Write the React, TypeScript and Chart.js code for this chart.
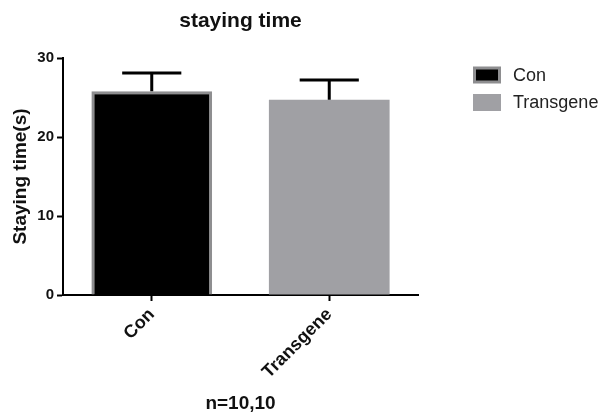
import React, { useEffect, useRef } from "react";
import { Chart, registerables } from "chart.js";

Chart.register(...registerables);

const categories = ["Con", "Transgene"];
const means = [25.8, 24.7];
const errors = [2.3, 2.5];
const yTickValues = [0, 10, 20, 30];
const fillColors = ["#000000", "#a0a0a4"];
const borderColors = ["#8e8e90", "#a0a0a4"];
const borderWidths = [3, 0];
const chartTitle = "staying time";
const yTitle = "Staying time(s)";
const xTitle = "n=10,10";

const FONT = "'Liberation Sans', Arial, Helvetica, sans-serif";

const errorBarPlugin = {
  id: "errorBars",
  afterDatasetsDraw(chart: any) {
    const ctx = chart.ctx;
    const meta = chart.getDatasetMeta(0);
    const yScale = chart.scales.y;
    ctx.save();
    ctx.strokeStyle = "#000000";
    ctx.lineWidth = 3;
    ctx.lineCap = "butt";
    meta.data.forEach((bar: any, i: number) => {
      const x = bar.x;
      const base = yScale.getPixelForValue(means[i]);
      const top = yScale.getPixelForValue(means[i] + errors[i]);
      const half = bar.width * 0.245;
      ctx.beginPath();
      ctx.moveTo(x, base);
      ctx.lineTo(x, top);
      ctx.moveTo(x - half, top);
      ctx.lineTo(x + half, top);
      ctx.stroke();
    });
    ctx.restore();
  },
};

const legendPlugin = {
  id: "sideLegend",
  afterDraw(chart: any) {
    const ctx = chart.ctx;
    const area = chart.chartArea;
    ctx.save();
    const boxX = area.right + 55;
    const boxW = 28;
    const boxH = 17;
    const rowGap = 27.5;
    const firstY = area.top + 17;
    categories.forEach((label, i) => {
      const cy = firstY + i * rowGap;
      ctx.fillStyle = borderColors[i];
      ctx.fillRect(boxX, cy - boxH / 2, boxW, boxH);
      ctx.fillStyle = fillColors[i];
      ctx.fillRect(boxX + 3, cy - boxH / 2 + 3, boxW - 6, boxH - 6);
      ctx.fillStyle = "#222222";
      ctx.font = `18px ${FONT}`;
      ctx.textAlign = "left";
      ctx.textBaseline = "middle";
      ctx.fillText(label, boxX + boxW + 12, cy + 1);
    });
    ctx.restore();
  },
};

export default function App() {
  const ref = useRef<HTMLCanvasElement | null>(null);

  useEffect(() => {
    if (!ref.current) return;
    const chart = new Chart(ref.current, {
      type: "bar",
      data: {
        labels: categories,
        datasets: [
          {
            label: "staying time",
            data: means,
            backgroundColor: fillColors,
            borderColor: borderColors,
            borderWidth: borderWidths,
            borderSkipped: "bottom",
            barPercentage: 0.68,
            categoryPercentage: 1,
          },
        ],
      },
      options: {
        responsive: false,
        animation: false,
        layout: { padding: { top: 0, left: 0, bottom: 0, right: 186 } },
        plugins: {
          legend: { display: false },
          tooltip: { enabled: false },
          title: {
            display: true,
            text: chartTitle,
            fullSize: false,
            color: "#111111",
            font: { family: FONT, size: 21, weight: "bold" },
            padding: { top: 9, bottom: 23.8 },
          },
        },
        scales: {
          x: {
            afterFit: (scale: any) => {
              scale.height = 120;
            },
            border: { display: true, color: "#000000", width: 2 },
            grid: {
              display: true,
              offset: false,
              drawOnChartArea: false,
              drawTicks: true,
              tickLength: 6,
              tickWidth: 2,
              tickColor: "#000000",
            },
            ticks: {
              color: "#111111",
              font: { family: FONT, size: 18, weight: "bold" },
              minRotation: 45,
              maxRotation: 45,
              padding: 3,
            },
            title: {
              display: true,
              text: xTitle,
              color: "#111111",
              font: { family: FONT, size: 19, weight: "bold" },
              padding: { top: 0, bottom: 0 },
            },
          },
          y: {
            min: 0,
            max: 30,
            afterFit: (scale: any) => {
              scale.width = 63;
            },
            afterBuildTicks: (scale: any) => {
              scale.ticks = yTickValues.map((v) => ({ value: v }));
            },
            border: { display: true, color: "#000000", width: 2 },
            grid: {
              display: true,
              drawOnChartArea: false,
              drawTicks: true,
              tickLength: 6,
              tickWidth: 2,
              tickColor: "#000000",
            },
            ticks: {
              color: "#111111",
              font: { family: FONT, size: 15, weight: "bold" },
              padding: 3,
            },
            title: {
              display: true,
              text: yTitle,
              color: "#111111",
              font: { family: FONT, size: 19, weight: "bold" },
              padding: { top: 9, bottom: 0 },
            },
          },
        },
      },
      plugins: [errorBarPlugin, legendPlugin],
    });
    return () => chart.destroy();
  }, []);

  return (
    <div style={{ position: "fixed", left: 0, top: 0, width: 604, height: 415, background: "#ffffff" }}>
      <canvas ref={ref} width={604} height={415} style={{ display: "block" }} />
    </div>
  );
}
